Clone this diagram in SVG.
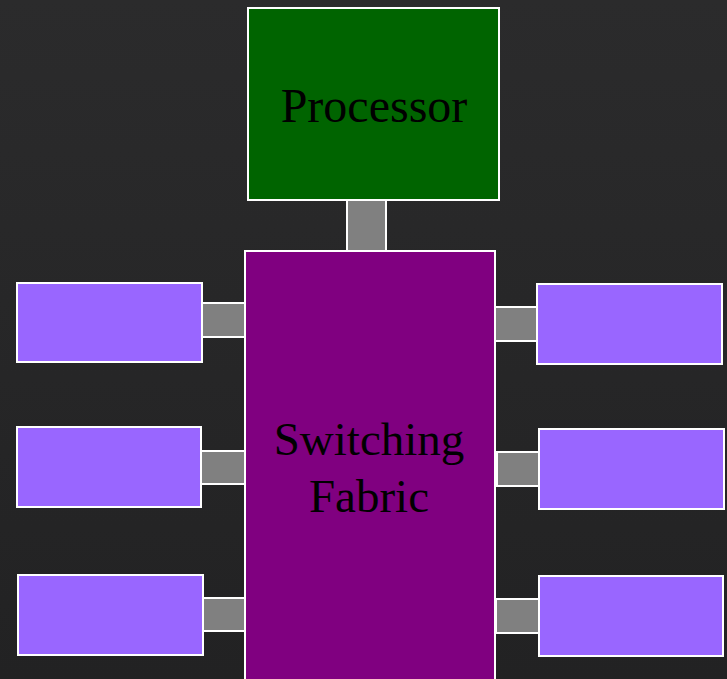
<svg xmlns="http://www.w3.org/2000/svg" width="727" height="679" viewBox="0 0 727 679">
  <defs>
    <linearGradient id="bg" x1="0" y1="0" x2="0" y2="1">
      <stop offset="0" stop-color="#2b2b2c"/>
      <stop offset="1" stop-color="#222223"/>
    </linearGradient>
    <style>
      .port { fill: #9966ff; stroke: #ffffff; stroke-width: 2; }
      .link { fill: #808080; stroke: #ffffff; stroke-width: 2; }
      .label { font-family: "Liberation Serif", "Times New Roman", serif; fill: #000000; text-anchor: middle; }
    </style>
  </defs>
  <rect x="0" y="0" width="727" height="679" fill="url(#bg)"/>

  <g id="connectors">
    <rect class="link" x="347" y="200" width="39" height="51"/>
    <rect class="link" x="202" y="303" width="43" height="34"/>
    <rect class="link" x="201" y="451" width="44" height="33"/>
    <rect class="link" x="203" y="598" width="42" height="33"/>
    <rect class="link" x="495" y="307" width="42" height="34"/>
    <rect class="link" x="497" y="452" width="42" height="34"/>
    <rect class="link" x="496" y="599" width="43" height="34"/>
  </g>

  <g id="processor">
    <rect x="248" y="8" width="251" height="192" fill="#006400" stroke="#ffffff" stroke-width="2"/>
    <text class="label" x="374" y="122" font-size="48">Processor</text>
  </g>

  <g id="switching-fabric">
    <rect x="245" y="251" width="250" height="440" fill="#800080" stroke="#ffffff" stroke-width="2"/>
    <text class="label" x="369" y="455" font-size="47">Switching</text>
    <text class="label" x="369" y="512" font-size="47">Fabric</text>
  </g>

  <g id="port-left-1"><rect class="port" x="17" y="283" width="185" height="79"/></g>
  <g id="port-left-2"><rect class="port" x="17" y="427" width="184" height="80"/></g>
  <g id="port-left-3"><rect class="port" x="18" y="575" width="185" height="80"/></g>
  <g id="port-right-1"><rect class="port" x="537" y="284" width="185" height="80"/></g>
  <g id="port-right-2"><rect class="port" x="539" y="429" width="185" height="80"/></g>
  <g id="port-right-3"><rect class="port" x="539" y="576" width="184" height="80"/></g>
</svg>
